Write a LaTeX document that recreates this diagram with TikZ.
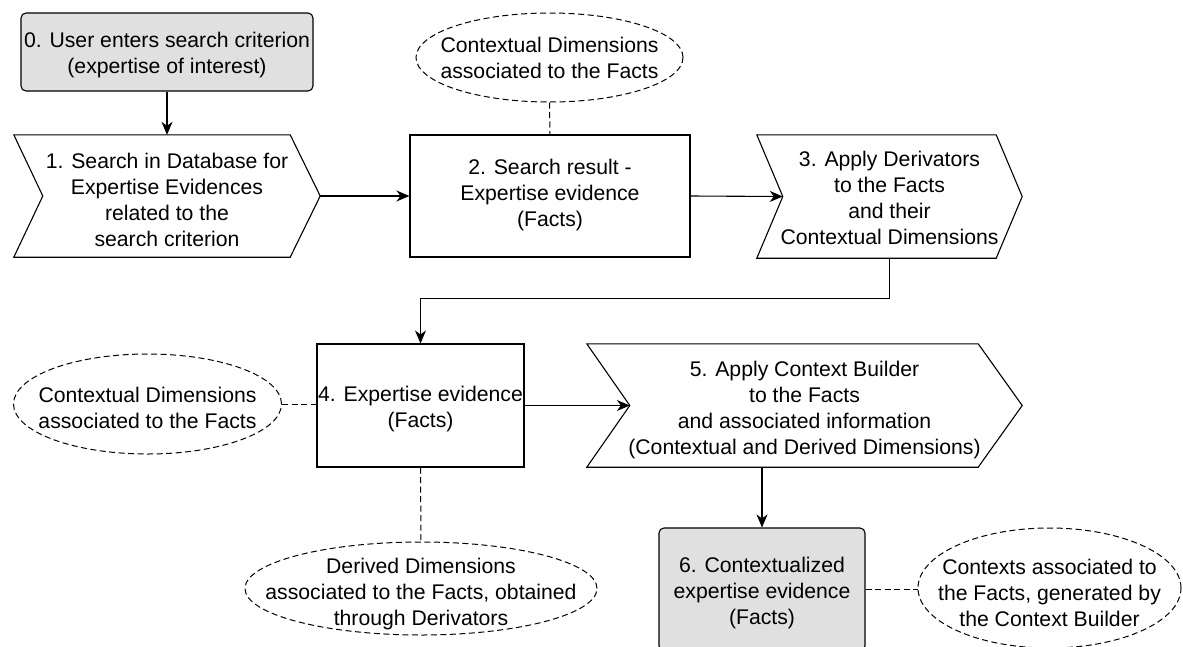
\documentclass[tikz,border=0pt]{standalone}
\usepackage{fontspec}
\setmainfont{Liberation Sans}
\usetikzlibrary{arrows.meta,shapes.geometric}
\definecolor{startfill}{HTML}{E0E0E0}
\tikzset{
  every node/.style={font=\fontsize{21.2pt}{26pt}\selectfont, align=center, inner sep=0pt},
  outline/.style={line width=1.1pt, draw=black},
  greybox/.style={outline, rounded corners=5pt, fill=startfill},
  whitebox/.style={outline, fill=white},
  stepbox/.style={rectangle, draw=none},
  note/.style={ellipse, draw=black, line width=1pt, dash pattern=on 6pt off 3.5pt},
  caption/.style={align=center, yshift=#1},
  caption/.default=0pt,
  flow/.style={line width=1.1pt, -{Stealth[length=13pt,width=11pt,inset=4pt]}},
  link/.style={line width=1pt, dash pattern=on 6pt off 3.5pt},
}
% outline of a step (chevron) around a named node: #2 = tip depth, #3 = notch depth
\newcommand\chevronoutline[3]{%
  \draw[outline] (#1.north west) -- ([xshift=-#2]#1.north east) -- (#1.east)
    -- ([xshift=-#2]#1.south east) -- (#1.south west) -- ([xshift=#3]#1.west) -- cycle;}
\begin{document}
\begin{tikzpicture}[x=1pt, y=-1pt]
  \path[use as bounding box] (0,0) rectangle (1183,646);
  \fill[white] (0,0) rectangle (1183,646);
  \clip (0,0) rectangle (1183,646);

  % first row
  \node[greybox, minimum width=292pt, minimum height=78pt,
        label={[caption=-3.5pt]center:0. User enters search criterion\\(expertise of interest)}] (n0) at (167,52) {};
  \node[stepbox, minimum width=306pt, minimum height=122pt,
        label={[caption=-4pt]center:1. Search in Database for\\Expertise Evidences\\related to the\\search criterion}] (n1) at (167,196) {};
  \chevronoutline{n1}{30pt}{29pt}
  \node[whitebox, minimum width=280pt, minimum height=122pt,
        label={[caption=1pt]center:2. Search result -\\Expertise evidence\\(Facts)}] (n2) at (550,196) {};
  \node[note, minimum width=267pt, minimum height=89pt,
        label={[caption]center:Contextual Dimensions\\associated to the Facts}] (c2) at (549.5,57.5) {};
  \node[stepbox, minimum width=265pt, minimum height=123pt,
        label={[caption=-1pt]center:3. Apply Derivators\\to the Facts\\and their\\Contextual Dimensions}] (n3) at (889.5,196.5) {};
  \chevronoutline{n3}{26pt}{26pt}

  % second row
  \node[whitebox, minimum width=207pt, minimum height=123pt,
        label={[caption=-4pt]center:4. Expertise evidence\\(Facts)}] (n4) at (420.5,405.5) {};
  \node[note, minimum width=268pt, minimum height=100pt,
        label={[caption=-4pt]center:Contextual Dimensions\\associated to the Facts}] (c4) at (147.5,404) {};
  \node[note, minimum width=352pt, minimum height=93pt,
        label={[caption=-6pt]center:Derived Dimensions\\associated to the Facts, obtained\\through Derivators}] (d4) at (421,588.5) {};
  \node[stepbox, minimum width=435pt, minimum height=123pt,
        label={[caption=-5pt]center:5. Apply Context Builder\\to the Facts\\and associated information\\(Contextual and Derived Dimensions)}] (n5) at (804.5,405.5) {};
  \chevronoutline{n5}{44pt}{43pt}

  % result
  \node[greybox, minimum width=206pt, minimum height=123pt,
        label={[caption=-4pt]center:6. Contextualized\\expertise evidence\\(Facts)}] (n6) at (762,589.5) {};
  \node[note, minimum width=263pt, minimum height=120pt,
        label={[caption=-5pt]center:Contexts associated to\\the Facts, generated by\\the Context Builder}] (c6) at (1049.5,588) {};

  % entry points of the steps
  \coordinate (n3in) at ([xshift=26pt]n3.west);
  \coordinate (n5in) at ([xshift=43pt]n5.west);

  % process flow
  \draw[flow] (n0.south) -- (n1.north);
  \draw[flow] (n1.east) -- (n2.west);
  \draw[flow] (n2.east) -- (n3in);
  \draw[flow] (n3.south) -- ++(0,40) -| (n4.north);
  \draw[flow] (n4.east) -- (n5in);
  \draw[flow] (n5.south -| n6.north) -- (n6.north);

  % associations
  \draw[link] (c2.south) -- (n2.north);
  \draw[link] (c4.east) -- (c4.east -| n4.west);
  \draw[link] (n4.south) -- (d4.north);
  \draw[link] (n6.east) -- (n6.east -| c6.west);
\end{tikzpicture}
\end{document}
